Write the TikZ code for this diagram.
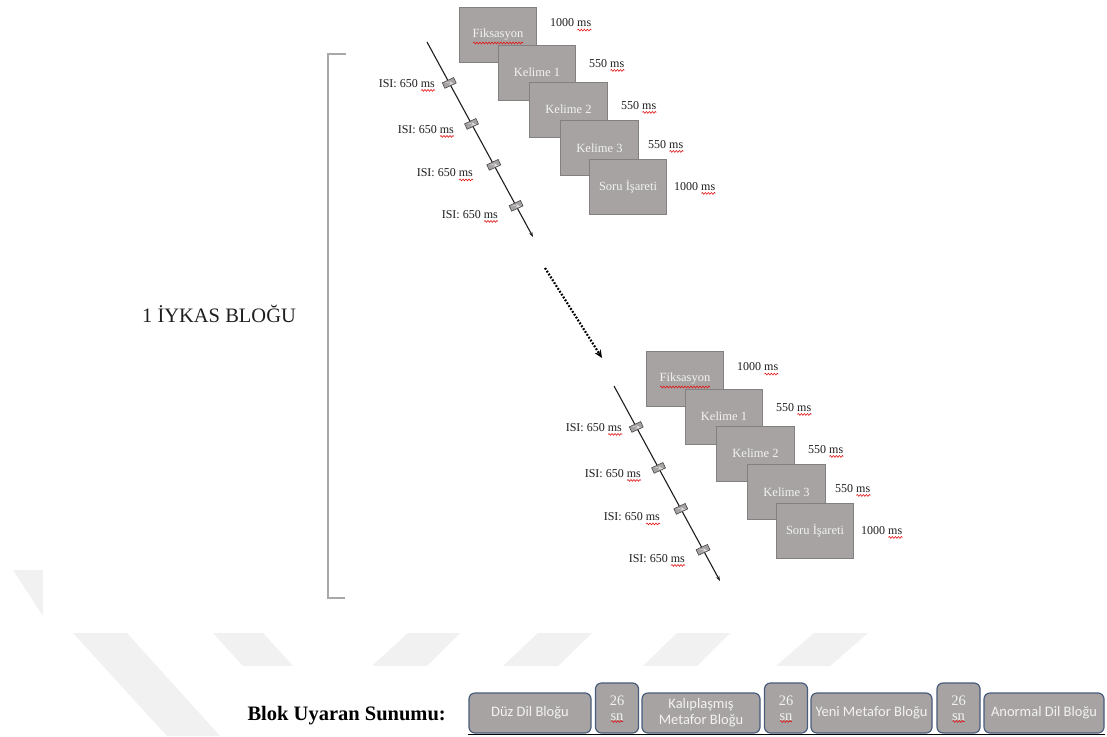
\documentclass[tikz,border=0pt]{standalone}
\usepackage{fontspec}
\setmainfont{Liberation Serif}
\newfontfamily\calfont{Carlito}
\usetikzlibrary{arrows.meta,calc,decorations.pathmorphing}
\definecolor{boxgray}{RGB}{167,163,163}
\definecolor{boxedge}{RGB}{130,128,128}
\definecolor{boxtext}{RGB}{242,242,242}
\definecolor{wm}{RGB}{241,241,241}
\definecolor{blokedge}{RGB}{72,92,124}
\definecolor{brk}{RGB}{168,168,168}
\definecolor{spell}{RGB}{225,20,20}
\definecolor{ink}{RGB}{30,30,30}
\pgfdeclarelayer{bg}
\pgfdeclarelayer{mid}
\pgfsetlayers{bg,mid,main}
\tikzset{
  scr/.style={draw=boxedge, line width=0.9pt, fill=boxgray, minimum width=77.5pt, minimum height=55pt, inner sep=0pt, text=boxtext, font=\fontsize{12.5}{14}\selectfont},
  tlab/.style={anchor=base west, inner sep=0pt, text=ink, font=\fontsize{12}{14}\selectfont},
  ilab/.style={anchor=base east, inner sep=0pt, text=ink, font=\fontsize{12}{14}\selectfont},
  isibox/.style={draw=gray!55!black, line width=0.6pt, fill=boxgray, minimum width=12.5pt, minimum height=6pt, inner sep=0pt, rotate=25,
     path picture={\draw[gray!25, line width=0.4pt] ([xshift=2.5pt]path picture bounding box.west) -- ([xshift=-2.5pt]path picture bounding box.east);}},
  tline/.style={line width=1.1pt, draw=ink, -{Stealth[length=5pt,width=3.5pt]}},
  dotarrow/.style={line width=2.2pt, dash pattern=on 1.8pt off 1.6pt, -{Stealth[length=8pt,width=7pt]}},
  blk/.style={draw=blokedge, line width=1.2pt, fill=boxgray, rounded corners=6pt, minimum height=40pt, inner sep=0pt, align=center, text=boxtext, font=\calfont\fontsize{14.5}{16}\selectfont},
  snbox/.style={draw=blokedge, line width=1.2pt, fill=boxgray, rounded corners=6pt, minimum width=43pt, minimum height=50pt, inner sep=0pt, align=center, text=boxtext, font=\fontsize{14.5}{15}\selectfont},
  wmark/.style={fill=wm, draw=none},
  wave/.style={draw=spell, line width=0.6pt, decorate, decoration={snake, amplitude=0.9pt, segment length=3pt}}
}
% red spell-check wave under the last #2 pt of a label ending at #1.base east
\newcommand\wavend[2]{\draw[wave] ([shift={(-#2,3.4)}]#1.base east) -- ([shift={(0,3.4)}]#1.base east);}
\newcommand\trialblock[1]{%
  \node[scr] (#1f)  at (498,35)    {Fiksasyon};
  \draw[wave] ([shift={(-25,8)}]#1f.center) -- ([shift={(25,8)}]#1f.center);
  \node[scr] (#1k1) at (537,72.5)  {Kelime 1};
  \node[scr] (#1k2) at (568.5,109.5) {Kelime 2};
  \node[scr] (#1k3) at (599.5,148) {Kelime 3};
  \node[scr] (#1s)  at (628,186.5) {Soru İşareti};
  \node[tlab] (#1tf) at (550,26.7) {1000 ms};
  \node[tlab] (#1t1) at (589,67)   {550 ms};
  \node[tlab] (#1t2) at (621,109)  {550 ms};
  \node[tlab] (#1t3) at (648,148)  {550 ms};
  \node[tlab] (#1ts) at (674,190)  {1000 ms};
  \foreach \n in {tf,t1,t2,t3,ts} {\wavend{#1\n}{14}}
  \coordinate (#1a) at (427,42);
  \coordinate (#1b) at (533,237);
  \draw[tline] (#1a) -- (#1b)
     node[isibox,pos=.21] (#1r1) {}
     node[isibox,pos=.42] (#1r2) {}
     node[isibox,pos=.63] (#1r3) {}
     node[isibox,pos=.84] (#1r4) {};
  \node[ilab] (#1i1) at (435,87)  {ISI: 650 ms};
  \node[ilab] (#1i2) at (454,133) {ISI: 650 ms};
  \node[ilab] (#1i3) at (473,176.5) {ISI: 650 ms};
  \node[ilab] (#1i4) at (498,218) {ISI: 650 ms};
  \foreach \n in {i1,i2,i3,i4} {\wavend{#1\n}{14}}
}
\begin{document}
\begin{tikzpicture}[x=1pt,y=-1pt]
\useasboundingbox (0,0) rectangle (1107,736);
\begin{pgfonlayer}{bg}
  \fill[white] (0,0) rectangle (1107,736);
  % faint watermark stripes
  \fill[wmark] (13,570) -- (43,570) -- (43,616) -- cycle;
  \fill[wmark] (73,633) -- (127,633) -- (220,736) -- (167,736) -- cycle;
  \fill[wmark] (213,633) -- (263,633) -- (293,666) -- (243,666) -- cycle;
  \fill[wmark] (408,633) -- (460,633) -- (427,666) -- (372,666) -- cycle;
  \fill[wmark] (538,633) -- (592,633) -- (558,666) -- (503,666) -- cycle;
  \fill[wmark] (677,633) -- (730,633) -- (697,666) -- (643,666) -- cycle;
  \fill[wmark] (814,633) -- (868,633) -- (830,666) -- (776,666) -- cycle;
  \fill[white] (43,0) rectangle (1107,633);
  \fill[white] (247,666) rectangle (1107,736);
\end{pgfonlayer}

% bracket
\coordinate (brtop) at (346,54);
\coordinate (brbot) at (345,598);
\draw[brk, line width=2pt] (brtop) -- (327.5,54) -- (327.5,598) -- (brbot);
\node[text=ink, font=\fontsize{20.5}{24}\selectfont] (title) at (219,314) {1 İYKAS BLOĞU};

% first trial block
\trialblock{a}

% dotted continuation arrow
\coordinate (d1) at (545,268);
\coordinate (d2) at (602,358);
\draw[dotarrow] (d1) -- (d2);

% second trial block
\begin{scope}[shift={(187,344)}]
\trialblock{b}
\end{scope}

% bottom row
\node[anchor=base east, inner sep=0pt, text=black, font=\bfseries\fontsize{20.5}{24}\selectfont] (blok) at (446,720) {Blok Uyaran Sunumu:};
\node[blk, minimum width=122pt] (bb1) at (530,713) {Düz Dil Bloğu};
\node[snbox] (bs1) at (617,708) {26\\sn};
\node[blk, minimum width=118pt] (bb2) at (701,713) {Kalıplaşmış\\Metafor Bloğu};
\node[snbox] (bs2) at (786,708) {26\\sn};
\node[blk, minimum width=121pt] (bb3) at (871.5,713) {Yeni Metafor Bloğu};
\node[snbox] (bs3) at (958.5,708) {26\\sn};
\node[blk, minimum width=120pt] (bb4) at (1044,713) {Anormal Dil Bloğu};
\foreach \n in {bs1,bs2,bs3} {\draw[wave] ([shift={(-6,13.5)}]\n.center) -- ([shift={(6,13.5)}]\n.center);}
\begin{pgfonlayer}{mid}
  \draw[line width=0.9pt, black] ([yshift=-1pt]bb1.south west) -- ([yshift=-1pt]bb4.south east);
\end{pgfonlayer}
\end{tikzpicture}
\end{document}
